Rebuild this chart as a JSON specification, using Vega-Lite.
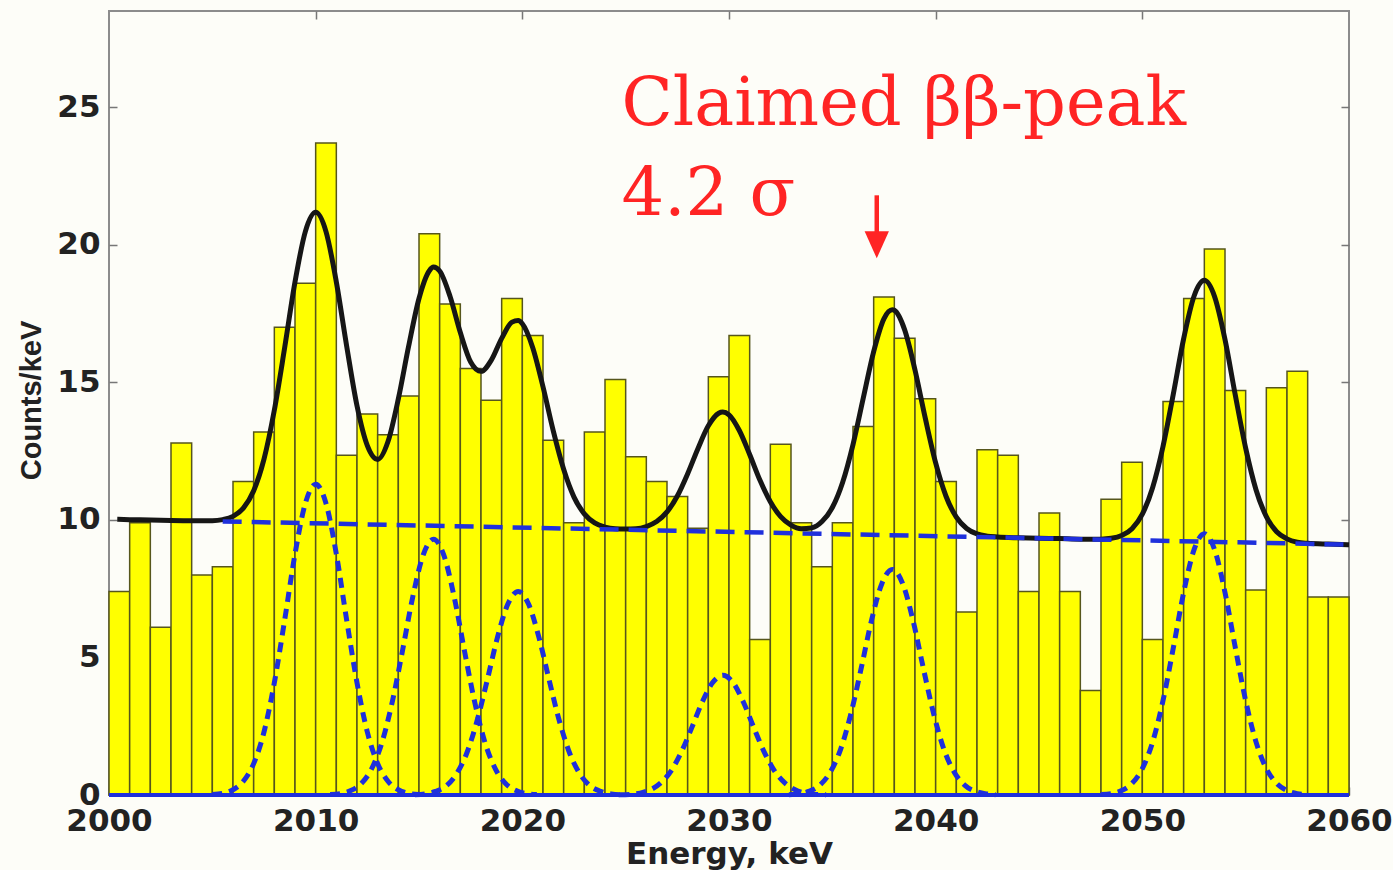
{
  "$schema": "https://vega.github.io/schema/vega-lite/v6.json",
  "width": 1240,
  "height": 784,
  "autosize": {"type": "none"},
  "padding": {"left": 109, "top": 11, "right": 44, "bottom": 75},
  "background": "#fdfdf8",
  "config": {
    "view": {"stroke": "#8c8c8c", "strokeWidth": 2},
    "axis": {
      "domain": false,
      "grid": false,
      "tickSize": -8,
      "tickColor": "#777777",
      "tickWidth": 1.5,
      "labelFont": "DejaVu Sans",
      "labelFontWeight": "bold",
      "labelFontSize": 31,
      "labelColor": "#222222",
      "labelFlush": false,
      "labelOverlap": false,
      "labelBound": false,
      "titleColor": "#222222",
      "format": "d"
    }
  },
  "datasets": {
    "bars": [
      {"lo": 2000, "hi": 2001, "c": 7.4}, {"lo": 2001, "hi": 2002, "c": 9.9}, {"lo": 2002, "hi": 2003, "c": 6.1},
      {"lo": 2003, "hi": 2004, "c": 12.8}, {"lo": 2004, "hi": 2005, "c": 8.0}, {"lo": 2005, "hi": 2006, "c": 8.3},
      {"lo": 2006, "hi": 2007, "c": 11.4}, {"lo": 2007, "hi": 2008, "c": 13.2}, {"lo": 2008, "hi": 2009, "c": 17.0},
      {"lo": 2009, "hi": 2010, "c": 18.6}, {"lo": 2010, "hi": 2011, "c": 23.7}, {"lo": 2011, "hi": 2012, "c": 12.35},
      {"lo": 2012, "hi": 2013, "c": 13.85}, {"lo": 2013, "hi": 2014, "c": 13.1}, {"lo": 2014, "hi": 2015, "c": 14.5},
      {"lo": 2015, "hi": 2016, "c": 20.4}, {"lo": 2016, "hi": 2017, "c": 17.85}, {"lo": 2017, "hi": 2018, "c": 15.5},
      {"lo": 2018, "hi": 2019, "c": 14.35}, {"lo": 2019, "hi": 2020, "c": 18.05}, {"lo": 2020, "hi": 2021, "c": 16.7},
      {"lo": 2021, "hi": 2022, "c": 12.9}, {"lo": 2022, "hi": 2023, "c": 9.9}, {"lo": 2023, "hi": 2024, "c": 13.2},
      {"lo": 2024, "hi": 2025, "c": 15.1}, {"lo": 2025, "hi": 2026, "c": 12.3}, {"lo": 2026, "hi": 2027, "c": 11.4},
      {"lo": 2027, "hi": 2028, "c": 10.85}, {"lo": 2028, "hi": 2029, "c": 9.7}, {"lo": 2029, "hi": 2030, "c": 15.2},
      {"lo": 2030, "hi": 2031, "c": 16.7}, {"lo": 2031, "hi": 2032, "c": 5.65}, {"lo": 2032, "hi": 2033, "c": 12.75},
      {"lo": 2033, "hi": 2034, "c": 9.9}, {"lo": 2034, "hi": 2035, "c": 8.3}, {"lo": 2035, "hi": 2036, "c": 9.9},
      {"lo": 2036, "hi": 2037, "c": 13.4}, {"lo": 2037, "hi": 2038, "c": 18.1}, {"lo": 2038, "hi": 2039, "c": 16.6},
      {"lo": 2039, "hi": 2040, "c": 14.4}, {"lo": 2040, "hi": 2041, "c": 11.4}, {"lo": 2041, "hi": 2042, "c": 6.65},
      {"lo": 2042, "hi": 2043, "c": 12.55}, {"lo": 2043, "hi": 2044, "c": 12.35}, {"lo": 2044, "hi": 2045, "c": 7.4},
      {"lo": 2045, "hi": 2046, "c": 10.25}, {"lo": 2046, "hi": 2047, "c": 7.4}, {"lo": 2047, "hi": 2048, "c": 3.8},
      {"lo": 2048, "hi": 2049, "c": 10.75}, {"lo": 2049, "hi": 2050, "c": 12.1}, {"lo": 2050, "hi": 2051, "c": 5.65},
      {"lo": 2051, "hi": 2052, "c": 14.3}, {"lo": 2052, "hi": 2053, "c": 18.05}, {"lo": 2053, "hi": 2054, "c": 19.85},
      {"lo": 2054, "hi": 2055, "c": 14.7}, {"lo": 2055, "hi": 2056, "c": 7.45}, {"lo": 2056, "hi": 2057, "c": 14.8},
      {"lo": 2057, "hi": 2058, "c": 15.4}, {"lo": 2058, "hi": 2059, "c": 7.2}, {"lo": 2059, "hi": 2060, "c": 7.2}
    ],
    "fit": [
      {"e": 2000.4, "v": 10.02}, {"e": 2001, "v": 10.01}, {"e": 2002, "v": 10.0}, {"e": 2003, "v": 9.98},
      {"e": 2004, "v": 9.97}, {"e": 2005, "v": 9.97}, {"e": 2005.5, "v": 10.01}, {"e": 2006, "v": 10.13},
      {"e": 2006.5, "v": 10.43}, {"e": 2007, "v": 11.06}, {"e": 2007.5, "v": 12.21}, {"e": 2008, "v": 13.99},
      {"e": 2008.5, "v": 16.26}, {"e": 2009, "v": 18.65}, {"e": 2009.5, "v": 20.48}, {"e": 2010, "v": 21.18},
      {"e": 2010.5, "v": 20.48}, {"e": 2011, "v": 18.65}, {"e": 2011.5, "v": 16.32}, {"e": 2012, "v": 14.15},
      {"e": 2012.5, "v": 12.7}, {"e": 2013, "v": 12.2}, {"e": 2013.5, "v": 12.85}, {"e": 2014, "v": 14.4},
      {"e": 2014.5, "v": 16.32}, {"e": 2015, "v": 18.05}, {"e": 2015.5, "v": 19.06}, {"e": 2015.7, "v": 19.19},
      {"e": 2016, "v": 19.05}, {"e": 2016.5, "v": 18.13}, {"e": 2017, "v": 16.81}, {"e": 2017.5, "v": 15.74},
      {"e": 2018, "v": 15.4}, {"e": 2018.5, "v": 15.81}, {"e": 2019, "v": 16.6}, {"e": 2019.5, "v": 17.19},
      {"e": 2019.8, "v": 17.25}, {"e": 2020, "v": 17.13}, {"e": 2020.5, "v": 16.27}, {"e": 2021, "v": 14.84},
      {"e": 2021.5, "v": 13.23}, {"e": 2022, "v": 11.84}, {"e": 2022.5, "v": 10.83}, {"e": 2023, "v": 10.22},
      {"e": 2023.5, "v": 9.89}, {"e": 2024, "v": 9.74}, {"e": 2024.5, "v": 9.68}, {"e": 2025, "v": 9.67},
      {"e": 2025.5, "v": 9.68}, {"e": 2026, "v": 9.76}, {"e": 2026.5, "v": 9.94}, {"e": 2027, "v": 10.29},
      {"e": 2027.5, "v": 10.87}, {"e": 2028, "v": 11.68}, {"e": 2028.5, "v": 12.6}, {"e": 2029, "v": 13.42},
      {"e": 2029.5, "v": 13.88}, {"e": 2029.7, "v": 13.92}, {"e": 2030, "v": 13.82}, {"e": 2030.5, "v": 13.25},
      {"e": 2031, "v": 12.38}, {"e": 2031.5, "v": 11.44}, {"e": 2032, "v": 10.66}, {"e": 2032.5, "v": 10.12},
      {"e": 2033, "v": 9.81}, {"e": 2033.5, "v": 9.68}, {"e": 2034, "v": 9.71}, {"e": 2034.5, "v": 9.94},
      {"e": 2035, "v": 10.45}, {"e": 2035.5, "v": 11.37}, {"e": 2036, "v": 12.74}, {"e": 2036.5, "v": 14.44},
      {"e": 2037, "v": 16.12}, {"e": 2037.5, "v": 17.32}, {"e": 2037.9, "v": 17.64}, {"e": 2038, "v": 17.62},
      {"e": 2038.5, "v": 16.91}, {"e": 2039, "v": 15.45}, {"e": 2039.5, "v": 13.69}, {"e": 2040, "v": 12.07},
      {"e": 2040.5, "v": 10.86}, {"e": 2041, "v": 10.1}, {"e": 2041.5, "v": 9.69}, {"e": 2042, "v": 9.49},
      {"e": 2042.5, "v": 9.41}, {"e": 2043, "v": 9.38}, {"e": 2044, "v": 9.35}, {"e": 2045, "v": 9.33},
      {"e": 2046, "v": 9.32}, {"e": 2047, "v": 9.3}, {"e": 2048, "v": 9.3}, {"e": 2048.5, "v": 9.33},
      {"e": 2049, "v": 9.43}, {"e": 2049.5, "v": 9.68}, {"e": 2050, "v": 10.21}, {"e": 2050.5, "v": 11.18},
      {"e": 2051, "v": 12.67}, {"e": 2051.5, "v": 14.58}, {"e": 2052, "v": 16.59}, {"e": 2052.5, "v": 18.13},
      {"e": 2053, "v": 18.71}, {"e": 2053.5, "v": 18.11}, {"e": 2054, "v": 16.56}, {"e": 2054.5, "v": 14.53},
      {"e": 2055, "v": 12.61}, {"e": 2055.5, "v": 11.1}, {"e": 2056, "v": 10.12}, {"e": 2056.5, "v": 9.57},
      {"e": 2057, "v": 9.31}, {"e": 2057.5, "v": 9.19}, {"e": 2058, "v": 9.15}, {"e": 2059, "v": 9.12},
      {"e": 2060, "v": 9.1}
    ],
    "bg": [
      {"e": 2005.5, "v": 9.945}, {"e": 2060, "v": 9.1}
    ],
    "zero": [
      {"e": 2000, "v": 0}, {"e": 2060, "v": 0}
    ],
    "peaks": [
      {"s": "1", "e": 2005, "v": 0.02}, {"s": "1", "e": 2005.5, "v": 0.06}, {"s": "1", "e": 2006, "v": 0.19},
      {"s": "1", "e": 2006.5, "v": 0.5}, {"s": "1", "e": 2007, "v": 1.14}, {"s": "1", "e": 2007.5, "v": 2.29},
      {"s": "1", "e": 2008, "v": 4.08}, {"s": "1", "e": 2008.5, "v": 6.36}, {"s": "1", "e": 2009, "v": 8.76},
      {"s": "1", "e": 2009.5, "v": 10.6}, {"s": "1", "e": 2010, "v": 11.3}, {"s": "1", "e": 2010.5, "v": 10.6},
      {"s": "1", "e": 2011, "v": 8.76}, {"s": "1", "e": 2011.5, "v": 6.36}, {"s": "1", "e": 2012, "v": 4.08},
      {"s": "1", "e": 2012.5, "v": 2.29}, {"s": "1", "e": 2013, "v": 1.14}, {"s": "1", "e": 2013.5, "v": 0.5},
      {"s": "1", "e": 2014, "v": 0.19}, {"s": "1", "e": 2014.5, "v": 0.06}, {"s": "1", "e": 2015, "v": 0.02},
      {"s": "2", "e": 2010.7, "v": 0.02}, {"s": "2", "e": 2011.2, "v": 0.05}, {"s": "2", "e": 2011.7, "v": 0.16},
      {"s": "2", "e": 2012.2, "v": 0.41}, {"s": "2", "e": 2012.7, "v": 0.94}, {"s": "2", "e": 2013.2, "v": 1.89},
      {"s": "2", "e": 2013.7, "v": 3.36}, {"s": "2", "e": 2014.2, "v": 5.24}, {"s": "2", "e": 2014.7, "v": 7.21},
      {"s": "2", "e": 2015.2, "v": 8.72}, {"s": "2", "e": 2015.7, "v": 9.3}, {"s": "2", "e": 2016.2, "v": 8.72},
      {"s": "2", "e": 2016.7, "v": 7.21}, {"s": "2", "e": 2017.2, "v": 5.24}, {"s": "2", "e": 2017.7, "v": 3.36},
      {"s": "2", "e": 2018.2, "v": 1.89}, {"s": "2", "e": 2018.7, "v": 0.94}, {"s": "2", "e": 2019.2, "v": 0.41},
      {"s": "2", "e": 2019.7, "v": 0.16}, {"s": "2", "e": 2020.2, "v": 0.05}, {"s": "2", "e": 2020.7, "v": 0.02},
      {"s": "3", "e": 2014.8, "v": 0.01}, {"s": "3", "e": 2015.3, "v": 0.04}, {"s": "3", "e": 2015.8, "v": 0.13},
      {"s": "3", "e": 2016.3, "v": 0.32}, {"s": "3", "e": 2016.8, "v": 0.75}, {"s": "3", "e": 2017.3, "v": 1.5},
      {"s": "3", "e": 2017.8, "v": 2.67}, {"s": "3", "e": 2018.3, "v": 4.17}, {"s": "3", "e": 2018.8, "v": 5.74},
      {"s": "3", "e": 2019.3, "v": 6.94}, {"s": "3", "e": 2019.8, "v": 7.4}, {"s": "3", "e": 2020.3, "v": 6.94},
      {"s": "3", "e": 2020.8, "v": 5.74}, {"s": "3", "e": 2021.3, "v": 4.17}, {"s": "3", "e": 2021.8, "v": 2.67},
      {"s": "3", "e": 2022.3, "v": 1.5}, {"s": "3", "e": 2022.8, "v": 0.75}, {"s": "3", "e": 2023.3, "v": 0.32},
      {"s": "3", "e": 2023.8, "v": 0.13}, {"s": "3", "e": 2024.3, "v": 0.04}, {"s": "3", "e": 2024.8, "v": 0.01},
      {"s": "4", "e": 2024.7, "v": 0.01}, {"s": "4", "e": 2025.2, "v": 0.02}, {"s": "4", "e": 2025.7, "v": 0.07},
      {"s": "4", "e": 2026.2, "v": 0.19}, {"s": "4", "e": 2026.7, "v": 0.44}, {"s": "4", "e": 2027.2, "v": 0.88},
      {"s": "4", "e": 2027.7, "v": 1.57}, {"s": "4", "e": 2028.2, "v": 2.45}, {"s": "4", "e": 2028.7, "v": 3.37},
      {"s": "4", "e": 2029.2, "v": 4.08}, {"s": "4", "e": 2029.7, "v": 4.35}, {"s": "4", "e": 2030.2, "v": 4.08},
      {"s": "4", "e": 2030.7, "v": 3.37}, {"s": "4", "e": 2031.2, "v": 2.45}, {"s": "4", "e": 2031.7, "v": 1.57},
      {"s": "4", "e": 2032.2, "v": 0.88}, {"s": "4", "e": 2032.7, "v": 0.44}, {"s": "4", "e": 2033.2, "v": 0.19},
      {"s": "4", "e": 2033.7, "v": 0.07}, {"s": "4", "e": 2034.2, "v": 0.02}, {"s": "4", "e": 2034.7, "v": 0.01},
      {"s": "5", "e": 2032.9, "v": 0.01}, {"s": "5", "e": 2033.4, "v": 0.05}, {"s": "5", "e": 2033.9, "v": 0.14},
      {"s": "5", "e": 2034.4, "v": 0.36}, {"s": "5", "e": 2034.9, "v": 0.83}, {"s": "5", "e": 2035.4, "v": 1.66},
      {"s": "5", "e": 2035.9, "v": 2.96}, {"s": "5", "e": 2036.4, "v": 4.62}, {"s": "5", "e": 2036.9, "v": 6.36},
      {"s": "5", "e": 2037.4, "v": 7.69}, {"s": "5", "e": 2037.9, "v": 8.2}, {"s": "5", "e": 2038.4, "v": 7.69},
      {"s": "5", "e": 2038.9, "v": 6.36}, {"s": "5", "e": 2039.4, "v": 4.62}, {"s": "5", "e": 2039.9, "v": 2.96},
      {"s": "5", "e": 2040.4, "v": 1.66}, {"s": "5", "e": 2040.9, "v": 0.83}, {"s": "5", "e": 2041.4, "v": 0.36},
      {"s": "5", "e": 2041.9, "v": 0.14}, {"s": "5", "e": 2042.4, "v": 0.05}, {"s": "5", "e": 2042.9, "v": 0.01},
      {"s": "6", "e": 2048, "v": 0.02}, {"s": "6", "e": 2048.5, "v": 0.05}, {"s": "6", "e": 2049, "v": 0.16},
      {"s": "6", "e": 2049.5, "v": 0.42}, {"s": "6", "e": 2050, "v": 0.96}, {"s": "6", "e": 2050.5, "v": 1.93},
      {"s": "6", "e": 2051, "v": 3.43}, {"s": "6", "e": 2051.5, "v": 5.35}, {"s": "6", "e": 2052, "v": 7.36},
      {"s": "6", "e": 2052.5, "v": 8.91}, {"s": "6", "e": 2053, "v": 9.5}, {"s": "6", "e": 2053.5, "v": 8.91},
      {"s": "6", "e": 2054, "v": 7.36}, {"s": "6", "e": 2054.5, "v": 5.35}, {"s": "6", "e": 2055, "v": 3.43},
      {"s": "6", "e": 2055.5, "v": 1.93}, {"s": "6", "e": 2056, "v": 0.96}, {"s": "6", "e": 2056.5, "v": 0.42},
      {"s": "6", "e": 2057, "v": 0.16}, {"s": "6", "e": 2057.5, "v": 0.05}, {"s": "6", "e": 2058, "v": 0.02}
    ],
    "notes": [
      {"e": 2024.8, "v": 24.36, "t": "Claimed ββ-peak"},
      {"e": 2024.8, "v": 21.08, "t": "4.2 σ"}
    ],
    "arrow": [
      {"e": 2037.15, "v": 21.8, "v2": 20.3}
    ],
    "head": [
      {"e": 2037.15, "v": 20.0}
    ]
  },
  "resolve": {"axis": {"x": "independent", "y": "independent"}},
  "layer": [
    {
      "data": {"name": "bars"},
      "mark": {"type": "rect", "color": "#ffff00", "stroke": "#56561c", "strokeWidth": 1.5},
      "encoding": {
        "x": {
          "field": "lo", "type": "quantitative",
          "scale": {"domain": [2000, 2060], "nice": false, "zero": false},
          "axis": {
            "orient": "bottom",
            "values": [2000, 2010, 2020, 2030, 2040, 2050, 2060],
            "format": "d",
            "labelPadding": 19.5,
            "title": "Energy, keV",
            "titleFont": "DejaVu Sans",
            "titleFontWeight": "bold",
            "titleFontSize": 31,
            "titleX": 620,
            "titleY": 68,
            "titleAlign": "center",
            "titleBaseline": "alphabetic"
          }
        },
        "x2": {"field": "hi"},
        "y": {
          "field": "c", "type": "quantitative",
          "scale": {"domain": [0, 28.5], "nice": false, "zero": true},
          "axis": {
            "orient": "left",
            "values": [0, 5, 10, 15, 20, 25],
            "format": "d",
            "labelAlign": "right",
            "labelBaseline": "middle",
            "labelPadding": 17,
            "title": "Counts/keV",
            "titleFont": "Liberation Sans",
            "titleFontWeight": "bold",
            "titleFontSize": 29,
            "titleAngle": -90,
            "titleX": -78,
            "titleY": 389,
            "titleAlign": "center",
            "titleBaseline": "middle"
          }
        },
        "y2": {"datum": 0}
      }
    },
    {
      "data": {"name": "fit"},
      "mark": {"type": "line", "color": "#161616", "strokeWidth": 5, "interpolate": "monotone"},
      "encoding": {
        "x": {
          "field": "e", "type": "quantitative",
          "scale": {"domain": [2000, 2060], "nice": false, "zero": false},
          "axis": {"orient": "top", "labels": false, "title": null, "values": [2010, 2020, 2030, 2040, 2050]}
        },
        "y": {
          "field": "v", "type": "quantitative",
          "scale": {"domain": [0, 28.5], "nice": false, "zero": true},
          "axis": {"orient": "right", "labels": false, "title": null, "values": [5, 10, 15, 20, 25]}
        }
      }
    },
    {
      "data": {"name": "bg"},
      "mark": {"type": "line", "color": "#1f30dc", "strokeWidth": 4.5, "strokeDash": [19, 10]},
      "encoding": {
        "x": {"field": "e", "type": "quantitative", "scale": {"domain": [2000, 2060], "nice": false, "zero": false}, "axis": null},
        "y": {"field": "v", "type": "quantitative", "scale": {"domain": [0, 28.5], "nice": false, "zero": true}, "axis": null}
      }
    },
    {
      "data": {"name": "zero"},
      "mark": {"type": "line", "color": "#1f30dc", "strokeWidth": 4},
      "encoding": {
        "x": {"field": "e", "type": "quantitative", "scale": {"domain": [2000, 2060], "nice": false, "zero": false}, "axis": null},
        "y": {"field": "v", "type": "quantitative", "scale": {"domain": [0, 28.5], "nice": false, "zero": true}, "axis": null}
      }
    },
    {
      "data": {"name": "peaks"},
      "mark": {"type": "line", "color": "#1f30dc", "strokeWidth": 5, "strokeDash": [10, 7], "interpolate": "monotone"},
      "encoding": {
        "x": {"field": "e", "type": "quantitative", "scale": {"domain": [2000, 2060], "nice": false, "zero": false}, "axis": null},
        "y": {"field": "v", "type": "quantitative", "scale": {"domain": [0, 28.5], "nice": false, "zero": true}, "axis": null},
        "detail": {"field": "s", "type": "nominal"}
      }
    },
    {
      "data": {"name": "notes"},
      "mark": {"type": "text", "align": "left", "baseline": "alphabetic", "font": "DejaVu Serif", "fontSize": 67, "color": "#ff2424"},
      "encoding": {
        "x": {"field": "e", "type": "quantitative", "scale": {"domain": [2000, 2060], "nice": false, "zero": false}, "axis": null},
        "y": {"field": "v", "type": "quantitative", "scale": {"domain": [0, 28.5], "nice": false, "zero": true}, "axis": null},
        "text": {"field": "t"}
      }
    },
    {
      "data": {"name": "arrow"},
      "mark": {"type": "rule", "color": "#ff2424", "strokeWidth": 4.5},
      "encoding": {
        "x": {"field": "e", "type": "quantitative", "scale": {"domain": [2000, 2060], "nice": false, "zero": false}, "axis": null},
        "y": {"field": "v", "type": "quantitative", "scale": {"domain": [0, 28.5], "nice": false, "zero": true}, "axis": null},
        "y2": {"field": "v2"}
      }
    },
    {
      "data": {"name": "head"},
      "mark": {"type": "point", "shape": "M-0.9,-1L0.9,-1L0,1Z", "filled": true, "size": 729, "color": "#ff2424", "opacity": 1, "strokeWidth": 0},
      "encoding": {
        "x": {"field": "e", "type": "quantitative", "scale": {"domain": [2000, 2060], "nice": false, "zero": false}, "axis": null},
        "y": {"field": "v", "type": "quantitative", "scale": {"domain": [0, 28.5], "nice": false, "zero": true}, "axis": null}
      }
    }
  ]
}
